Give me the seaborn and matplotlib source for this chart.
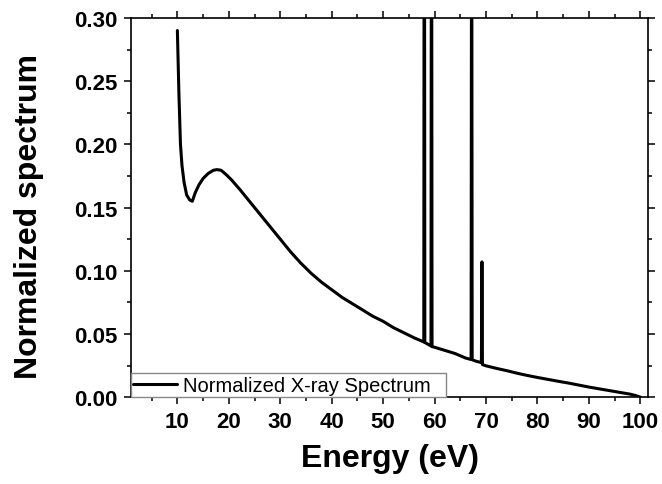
import numpy as np
import pandas as pd
import matplotlib
matplotlib.use("Agg")
import matplotlib.pyplot as plt
import seaborn as sns
from matplotlib.ticker import MultipleLocator, FormatStrFormatter

# values
energy = [10.0, 10.3, 10.6, 10.9, 11.3, 11.8, 12.4, 12.9, 13.5, 14.2, 15.0, 16.0, 17.0, 17.7,
          18.5, 19.5, 20.5, 22.0, 24.0, 26.0, 28.0, 30.0, 32.0, 34.0, 36.0, 38.0, 40.0, 42.0,
          44.0, 46.0, 48.0, 50.0, 52.0, 54.0, 56.0, 57.9, 58.0, 58.1, 59.3, 59.4, 59.5, 60.0,
          62.0, 64.0, 66.0, 67.1, 67.2, 67.3, 68.0, 69.1, 69.2, 69.3, 70.0, 72.0, 74.0, 76.0,
          78.0, 80.0, 82.0, 84.0, 86.0, 88.0, 90.0, 92.0, 94.0, 96.0, 98.0, 99.0, 100.0]
spectrum = [0.290, 0.240, 0.200, 0.183, 0.170, 0.160, 0.156, 0.155, 0.162, 0.168, 0.173, 0.177,
            0.1795, 0.180, 0.1795, 0.176, 0.172, 0.165, 0.155, 0.145, 0.135, 0.125, 0.115, 0.106,
            0.098, 0.091, 0.085, 0.079, 0.074, 0.069, 0.064, 0.060, 0.055, 0.051, 0.047, 0.0437,
            0.60, 0.0433, 0.0405, 0.55, 0.0400, 0.0395, 0.037, 0.0345, 0.031, 0.0298, 0.50,
            0.0296, 0.0285, 0.0274, 0.107, 0.0258, 0.0248, 0.0228, 0.021, 0.019, 0.0172, 0.0156,
            0.0141, 0.0126, 0.0112, 0.0096, 0.0080, 0.0066, 0.0052, 0.0038, 0.0024, 0.0014, 0.0]

df = pd.DataFrame({"Energy": energy, "Spectrum": spectrum})

sns.set_style("ticks")
plt.rcParams['font.family'] = ['Liberation Sans', 'DejaVu Sans']
plt.rcParams['text.color'] = 'black'
plt.rcParams['axes.labelcolor'] = 'black'

fig = plt.figure(figsize=(6.62, 4.85), dpi=100)
ax = fig.add_axes([0.198, 0.179, 0.781, 0.782])

sns.lineplot(data=df, x="Energy", y="Spectrum", sort=False, estimator=None, ax=ax,
             color="black", linewidth=2.2, label="Normalized X-ray Spectrum")

ax.set_xlim(1, 101.5)
ax.set_ylim(0, 0.3)
ax.set_xticks(np.arange(10, 101, 10))
ax.xaxis.set_minor_locator(MultipleLocator(5))
ax.yaxis.set_major_locator(MultipleLocator(0.05))
ax.yaxis.set_minor_locator(MultipleLocator(0.025))
ax.yaxis.set_major_formatter(FormatStrFormatter('%.2f'))

ax.tick_params(which='both', direction='out', top=True, right=True, width=1.1, colors='black')
ax.tick_params(which='major', length=5)
ax.tick_params(which='minor', length=3)
ax.tick_params(axis='x', which='major', pad=5)
ax.tick_params(axis='y', which='major', pad=4.5)
for lbl in ax.get_xticklabels() + ax.get_yticklabels():
    lbl.set_fontsize(16)
    lbl.set_fontweight('bold')
for sp in ax.spines.values():
    sp.set_linewidth(1.2)
    sp.set_color('black')

ax.set_xlabel("Energy (eV)", fontsize=23, fontweight='bold', color='black')
ax.set_ylabel("Normalized spectrum", fontsize=23, fontweight='bold', color='black')
ax.xaxis.set_label_coords(0.501, -0.121)
ax.yaxis.set_label_coords(-0.168, 0.478)

leg = ax.legend(loc='lower left', bbox_to_anchor=(0, 0, 0.609, 0.1), mode='expand',
                borderaxespad=0, fancybox=False, fontsize=14.5, handlelength=2.15,
                handletextpad=0.33, borderpad=0.12, framealpha=1)
leg.get_frame().set_edgecolor('#888888')
leg.get_frame().set_linewidth(1.0)
for t in leg.get_texts():
    t.set_color('black')

fig.savefig("out.png", dpi=100)
